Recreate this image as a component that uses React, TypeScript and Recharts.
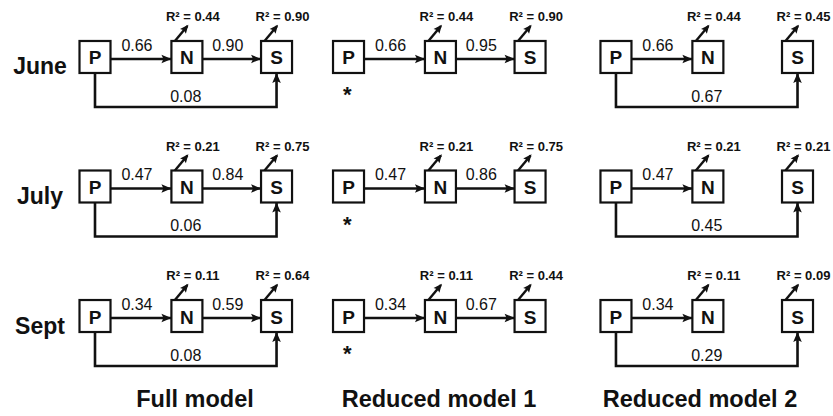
import React from 'react';
import { ScatterChart, Scatter, XAxis, YAxis } from 'recharts';

// ---------- data ----------
const months = ['June', 'July', 'Sept'];
const models = ['Full model', 'Reduced model 1', 'Reduced model 2'];
const nodeNames = ['P', 'N', 'S'];

const fullPN = [0.66, 0.47, 0.34];
const fullNS = [0.9, 0.84, 0.59];
const fullPS = [0.08, 0.06, 0.08];
const fullR2N = [0.44, 0.21, 0.11];
const fullR2S = [0.9, 0.75, 0.64];

const red1PN = [0.66, 0.47, 0.34];
const red1NS = [0.95, 0.86, 0.67];
const red1R2N = [0.44, 0.21, 0.11];
const red1R2S = [0.9, 0.75, 0.44];
const red1Star = ['*', '*', '*'];

const red2PN = [0.66, 0.47, 0.34];
const red2PS = [0.67, 0.45, 0.29];
const red2R2N = [0.44, 0.21, 0.11];
const red2R2S = [0.45, 0.21, 0.09];

type Spec = {
  pn: number[] | null;
  ns: number[] | null;
  ps: number[] | null;
  r2n: number[];
  r2s: number[];
  star: string[] | null;
};

const modelSpecs: Spec[] = [
  { pn: fullPN, ns: fullNS, ps: fullPS, r2n: fullR2N, r2s: fullR2S, star: null },
  { pn: red1PN, ns: red1NS, ps: null, r2n: red1R2N, r2s: red1R2S, star: red1Star },
  { pn: red2PN, ns: null, ps: red2PS, r2n: red2R2N, r2s: red2R2S, star: null },
];

// ---------- layout (axis units: x = node slot, y = month row) ----------
const W = 833;
const H = 416;
const X_DOMAIN: [number, number] = [-1.044, 8.11];
const Y_DOMAIN: [number, number] = [-0.44, 2.772];
const MODEL_X = [0, 2.786, 5.725];
const NODE_X: Record<string, number> = { P: 0, N: 1.01, S: 1.995 };
const HALF_W = 0.17;
const HALF_H = 0.124;
const ARROW_DY = 0.015;
const LOOP_DY = 0.386;
const LABEL_SHIFT = 0.044;
const MONTH_LABEL_X = -0.604;
const TITLE_X = [1.099, 3.78, 6.648];
const TITLE_Y = 2.703;
const STAR_DX = -0.015;
const STAR_DY = 0.25;

const FONT = '"Liberation Sans", Arial, Helvetica, sans-serif';
const fmt = (v: number) => v.toFixed(2);

// ---------- build point sets ----------
type Pt = { x: number; y: number; head?: 'right' | 'up' };
const nodes: any[] = [];
const edges: { key: string; points: Pt[] }[] = [];
const edgeLabels: any[] = [];
const stars: any[] = [];

modelSpecs.forEach((spec, m) => {
  const mx = MODEL_X[m];
  months.forEach((_, r) => {
    nodeNames.forEach((name) => {
      nodes.push({
        x: mx + NODE_X[name],
        y: r,
        name,
        r2: name === 'N' ? spec.r2n[r] : name === 'S' ? spec.r2s[r] : null,
      });
    });
    if (spec.pn) {
      const x0 = mx + NODE_X.P + HALF_W;
      const x1 = mx + NODE_X.N - HALF_W;
      edges.push({ key: `pn-${m}-${r}`, points: [{ x: x0, y: r + ARROW_DY }, { x: x1, y: r + ARROW_DY, head: 'right' }] });
      edgeLabels.push({ x: (x0 + x1) / 2 - LABEL_SHIFT, y: r + ARROW_DY, text: fmt(spec.pn[r]), kind: 'h' });
    }
    if (spec.ns) {
      const x0 = mx + NODE_X.N + HALF_W;
      const x1 = mx + NODE_X.S - HALF_W;
      edges.push({ key: `ns-${m}-${r}`, points: [{ x: x0, y: r + ARROW_DY }, { x: x1, y: r + ARROW_DY, head: 'right' }] });
      edgeLabels.push({ x: (x0 + x1) / 2 - LABEL_SHIFT, y: r + ARROW_DY, text: fmt(spec.ns[r]), kind: 'h' });
    }
    if (spec.ps) {
      const xp = mx + NODE_X.P;
      const xs = mx + NODE_X.S;
      edges.push({
        key: `ps-${m}-${r}`,
        points: [
          { x: xp, y: r + HALF_H },
          { x: xp, y: r + LOOP_DY },
          { x: xs, y: r + LOOP_DY },
          { x: xs, y: r + HALF_H, head: 'up' },
        ],
      });
      edgeLabels.push({ x: (xp + xs) / 2, y: r + LOOP_DY, text: fmt(spec.ps[r]), kind: 'loop' });
    }
    if (spec.star) {
      stars.push({ x: mx + NODE_X.P + STAR_DX, y: r + STAR_DY, text: spec.star[r] });
    }
  });
});

const monthLabels = months.map((text, r) => ({ x: MONTH_LABEL_X, y: r, text }));
const titles = models.map((text, m) => ({ x: TITLE_X[m], y: TITLE_Y, text }));

// ---------- shapes ----------
function arrowPoints(tx: number, ty: number, angleDeg: number, len: number, half: number, notch: number) {
  const a = (angleDeg * Math.PI) / 180;
  const c = Math.cos(a);
  const s = Math.sin(a);
  const pts = [
    [0, 0],
    [-len, -half],
    [-len + notch, 0],
    [-len, half],
  ];
  return pts.map(([px, py]) => `${tx + px * c - py * s},${ty + px * s + py * c}`).join(' ');
}

const INK = '#111';

const NodeShape = (props: any) => {
  const { cx, cy, payload } = props;
  const sx = cx - 12;
  const sy = cy - 16;
  const ex = cx + 0.5;
  const ey = cy - 31;
  const ang = (Math.atan2(ey - sy, ex - sx) * 180) / Math.PI;
  return (
    <g>
      <rect x={cx - 15.5} y={cy - 16} width={31} height={32} fill="#fff" stroke={INK} strokeWidth={2.2} />
      <text x={cx} y={cy + 7.5} textAnchor="middle" fontFamily={FONT} fontWeight="bold" fontSize={19} fill={INK}>
        {payload.name}
      </text>
      {payload.r2 != null && (
        <g>
          <line x1={sx} y1={sy} x2={ex} y2={ey} stroke={INK} strokeWidth={2.4} />
          <polygon points={arrowPoints(ex + 1, ey - 1.2, ang, 8.5, 3.8, 1.5)} fill={INK} />
          <text x={cx + 6} y={cy - 36} textAnchor="middle" fontFamily={FONT} fontWeight="bold" fontSize={13} fill={INK}>
            {`R² = ${fmt(payload.r2)}`}
          </text>
        </g>
      )}
    </g>
  );
};

const EdgeShape = (props: any) => {
  const { cx, cy, payload } = props;
  if (!payload || !payload.head) return <g />;
  const ang = payload.head === 'right' ? 0 : -90;
  return <polygon points={arrowPoints(cx, cy, ang, 10, 4.3, 2)} fill={INK} />;
};

const EdgeLabelShape = (props: any) => {
  const { cx, cy, payload } = props;
  const dy = payload.kind === 'h' ? -8 : -5;
  return (
    <text x={cx} y={cy + dy} textAnchor="middle" fontFamily={FONT} fontSize={16} fill={INK}>
      {payload.text}
    </text>
  );
};

const MonthShape = (props: any) => {
  const { cx, cy, payload } = props;
  return (
    <text x={cx} y={cy + 17.5} textAnchor="middle" fontFamily={FONT} fontWeight="bold" fontSize={23} fill={INK}>
      {payload.text}
    </text>
  );
};

const TitleShape = (props: any) => {
  const { cx, cy, payload } = props;
  return (
    <text x={cx} y={cy} textAnchor="middle" fontFamily={FONT} fontWeight="bold" fontSize={23.5} fill={INK}>
      {payload.text}
    </text>
  );
};

const StarShape = (props: any) => {
  const { cx, cy, payload } = props;
  return (
    <text x={cx} y={cy + 13} textAnchor="middle" fontFamily={FONT} fontWeight="bold" fontSize={22} fill={INK}>
      {payload.text}
    </text>
  );
};

export default function App() {
  return (
    <div style={{ position: 'absolute', left: 0, top: 0, width: W, height: H, background: '#fff' }}>
      <ScatterChart width={W} height={H} margin={{ top: 0, right: 0, bottom: 0, left: 0 }}>
        <XAxis type="number" dataKey="x" domain={X_DOMAIN} hide allowDataOverflow />
        <YAxis type="number" dataKey="y" domain={Y_DOMAIN} hide reversed allowDataOverflow />
        {edges.map((e) => (
          <Scatter
            key={e.key}
            data={e.points}
            fill={INK}
            line={{ stroke: INK, strokeWidth: 2.6 }}
            lineType="joint"
            shape={EdgeShape}
            isAnimationActive={false}
          />
        ))}
        <Scatter data={nodes} shape={NodeShape} isAnimationActive={false} />
        <Scatter data={edgeLabels} shape={EdgeLabelShape} isAnimationActive={false} />
        <Scatter data={stars} shape={StarShape} isAnimationActive={false} />
        <Scatter data={monthLabels} shape={MonthShape} isAnimationActive={false} />
        <Scatter data={titles} shape={TitleShape} isAnimationActive={false} />
      </ScatterChart>
    </div>
  );
}
